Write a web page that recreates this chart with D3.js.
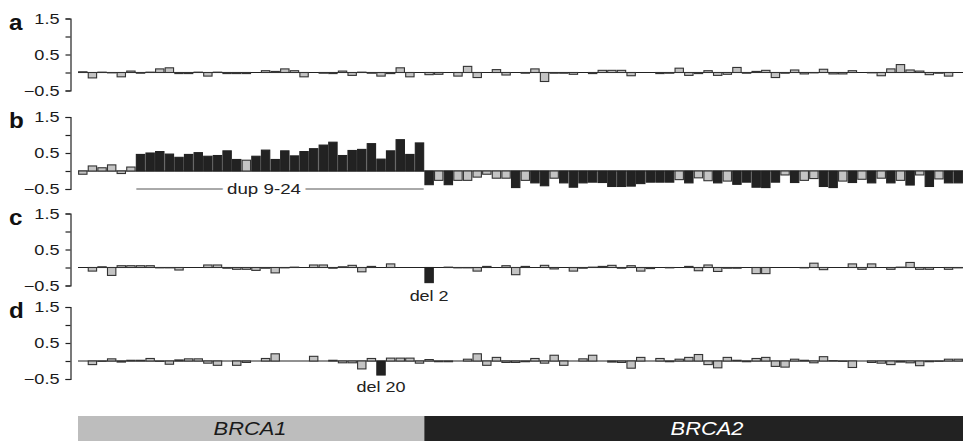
<!DOCTYPE html>
<html>
<head>
<meta charset="utf-8">
<script src="https://cdn.jsdelivr.net/npm/d3@7"></script>
<style>
  body { margin: 0; background: #fff; }
  svg { display: block; font-family: "Liberation Sans", Arial, Helvetica, sans-serif; }
</style>
</head>
<body>
<svg></svg>
<script>
// probe ratios (log2), 36 BRCA1 probes followed by 56 BRCA2 probes
const panelLetters = ["a", "b", "c", "d"];
const genes = ["BRCA1", "BRCA2"];
const geneProbeCounts = [36, 56];
const yTicks = [1.5, 1, 0.5, 0, -0.5];
const yTickLabels = ["1.5", "", "0.5", "", "\u22120.5"];

const ratiosA = [
  0.02, -0.15, 0.01, -0.01, -0.12, 0.04, -0.02, 0.01, 0.10, 0.13,
  -0.03, -0.03, 0.01, -0.10, 0.01, -0.03, -0.03, -0.03, 0.00, 0.05,
  0.03, 0.10, 0.05, -0.12, 0.00, -0.02, -0.03, 0.04, -0.08, 0.01,
  -0.02, -0.10, -0.03, 0.13, -0.12, 0.00, -0.06, -0.05, 0.00, -0.10,
  0.17, -0.14, 0.00, 0.08, -0.07, 0.00, -0.02, 0.10, -0.25, -0.02,
  -0.02, -0.05, 0.00, -0.03, 0.06, 0.06, 0.06, -0.09, 0.00, 0.00,
  -0.03, -0.02, 0.12, -0.08, -0.03, 0.05, -0.08, -0.05, 0.14, -0.02,
  0.03, 0.06, -0.14, -0.02, 0.07, -0.04, -0.01, 0.09, -0.04, -0.04,
  0.05, 0.00, -0.01, -0.09, 0.10, 0.22, 0.07, 0.04, -0.06, -0.02,
  -0.10, 0.00
];
const ratiosB = [
  -0.09, 0.14, 0.09, 0.17, -0.07, 0.11, 0.46, 0.50, 0.54, 0.47,
  0.38, 0.46, 0.51, 0.41, 0.43, 0.56, 0.32, 0.30, 0.41, 0.58,
  0.32, 0.56, 0.42, 0.54, 0.62, 0.72, 0.80, 0.43, 0.57, 0.60,
  0.76, 0.33, 0.56, 0.87, 0.46, 0.78, -0.38, -0.26, -0.38, -0.26,
  -0.26, -0.17, -0.09, -0.20, -0.20, -0.46, -0.26, -0.33, -0.41, -0.20,
  -0.33, -0.45, -0.33, -0.31, -0.32, -0.43, -0.43, -0.42, -0.35, -0.31,
  -0.31, -0.31, -0.24, -0.33, -0.19, -0.27, -0.33, -0.28, -0.37, -0.31,
  -0.45, -0.46, -0.31, -0.11, -0.32, -0.26, -0.21, -0.43, -0.46, -0.28,
  -0.32, -0.23, -0.33, -0.20, -0.33, -0.26, -0.39, -0.11, -0.43, -0.22,
  -0.33, -0.33
];
const ratiosC = [
  0.00, -0.10, 0.02, -0.22, 0.05, 0.05, 0.05, 0.05, -0.01, -0.01,
  -0.07, 0.00, 0.00, 0.07, 0.07, -0.02, -0.05, -0.05, -0.08, -0.02,
  -0.15, -0.01, 0.01, 0.00, 0.07, 0.07, -0.02, 0.02, 0.06, -0.12,
  0.03, 0.00, 0.10, 0.00, 0.00, 0.00, -0.42, 0.00, 0.01, -0.01,
  -0.01, -0.10, 0.03, 0.00, 0.05, -0.20, 0.03, 0.00, 0.06, -0.04,
  0.00, -0.10, -0.02, 0.01, 0.03, 0.06, -0.02, 0.05, -0.10, -0.03,
  0.00, -0.01, 0.00, 0.03, -0.09, 0.07, -0.11, -0.02, -0.02, 0.00,
  -0.17, -0.17, 0.00, 0.00, 0.00, -0.01, 0.12, -0.06, 0.00, 0.00,
  0.10, -0.05, 0.10, 0.00, -0.05, 0.01, 0.14, -0.05, -0.05, 0.00,
  -0.05, -0.01
];
const ratiosD = [
  0.00, -0.10, -0.01, 0.06, -0.03, 0.02, 0.02, 0.07, -0.01, -0.09,
  0.03, 0.06, 0.06, -0.06, -0.12, 0.00, -0.12, -0.04, 0.00, 0.07,
  0.20, 0.00, 0.00, 0.00, 0.13, 0.00, 0.02, -0.05, -0.05, -0.22,
  0.07, -0.39, 0.08, 0.08, 0.08, -0.06, 0.04, -0.02, -0.02, 0.00,
  0.05, 0.20, -0.12, 0.10, -0.04, -0.04, -0.02, 0.07, -0.06, 0.16,
  -0.12, 0.00, 0.06, 0.16, 0.00, -0.03, -0.04, -0.20, 0.10, 0.00,
  0.07, -0.02, 0.05, 0.10, 0.18, -0.10, -0.19, 0.10, 0.02, -0.02,
  0.07, 0.10, -0.15, -0.17, 0.05, 0.02, -0.05, 0.12, 0.01, -0.01,
  -0.18, 0.00, -0.04, -0.06, -0.10, -0.03, -0.05, -0.13, -0.02, -0.01,
  0.05, 0.05
];

// probes flagged as abnormal (drawn black)
const darkA = [];
const darkB = [
  6, 7, 8, 9, 10, 11, 12, 13, 14, 15, 16, 18, 19, 20, 21, 22, 23, 24, 25,
  26, 27, 28, 29, 30, 31, 32, 33, 34, 35,
  36, 38, 45, 47, 48, 50, 51, 52, 53, 54, 55, 56, 57, 58, 59, 60, 61, 63,
  66, 68, 69, 70, 71, 72, 74, 77, 78, 80, 82, 84, 86, 88, 90, 91
];
const darkC = [36];
const darkD = [31];

const panels = [
  { letter: "a", values: ratiosA, dark: darkA },
  { letter: "b", values: ratiosB, dark: darkB },
  { letter: "c", values: ratiosC, dark: darkC },
  { letter: "d", values: ratiosD, dark: darkD }
];

const width = 963, height = 441;
const svg = d3.select("svg").attr("width", width).attr("height", height);

// the source figure is stretched sideways, so text is too
function stretch(sel, sx) {
  sel.each(function () {
    const t = d3.select(this);
    const tx = +t.attr("x") || 0, ty = +t.attr("y") || 0;
    t.attr("x", 0).attr("y", 0)
      .attr("transform", `translate(${tx},${ty}) scale(${sx},1)`);
  });
}

const nProbes = d3.sum(geneProbeCounts);
const x = d3.scaleBand()
  .domain(d3.range(nProbes))
  .range([78, 963])
  .paddingInner(0.13)
  .paddingOuter(0.065);

const panelTops = [18.5, 117, 213.5, 307];
const panelH = 72;

panels.forEach((p, i) => {
  const g = svg.append("g").attr("transform", `translate(0,${panelTops[i]})`);
  const y = d3.scaleLinear().domain([-0.5, 1.5]).range([panelH, 0]);

  const axis = d3.axisLeft(y)
    .tickValues(yTicks)
    .tickSize(5)
    .tickPadding(6)
    .tickFormat((d, j) => yTickLabels[j]);
  const ax = g.append("g").attr("transform", "translate(70.5,0)").call(axis);
  ax.select(".domain").attr("stroke", "#222").attr("stroke-width", 1.2);
  ax.selectAll(".tick line").attr("stroke", "#222").attr("stroke-width", 1.2);
  const tt = ax.selectAll(".tick text")
    .attr("fill", "#1a1a1a")
    .style("font-size", "14.5px")
    .style("font-family", "'Liberation Sans', Arial, sans-serif");
  stretch(tt, 1.25);

  const lt = g.append("text")
    .attr("x", 9)
    .attr("y", 11)
    .attr("font-size", 22)
    .attr("font-weight", "bold")
    .attr("fill", "#111")
    .text(p.letter);
  stretch(lt, 1.1);

  g.append("line")
    .attr("x1", 78).attr("x2", 963)
    .attr("y1", y(0)).attr("y2", y(0))
    .attr("stroke", "#222").attr("stroke-width", 1);

  const darkSet = new Set(p.dark);
  g.selectAll("rect.bar")
    .data(p.values)
    .enter()
    .append("rect")
    .attr("class", "bar")
    .attr("x", (d, k) => x(k))
    .attr("width", x.bandwidth())
    .attr("y", d => Math.min(y(d), y(0)))
    .attr("height", d => Math.abs(y(d) - y(0)))
    .attr("fill", (d, k) => darkSet.has(k) ? "#222" : "#c4c4c4")
    .attr("stroke", (d, k) => darkSet.has(k) ? "#222" : "#333")
    .attr("stroke-width", 1.1);

  if (p.letter === "b") {
    const x0 = x(6), x1 = x(35) + x.bandwidth();
    g.append("line")
      .attr("x1", x0).attr("x2", x1)
      .attr("y1", y(-0.5)).attr("y2", y(-0.5))
      .attr("stroke", "#555").attr("stroke-width", 1);
    const t = g.append("text")
      .attr("x", 264).attr("y", y(-0.5) + 5)
      .attr("text-anchor", "middle")
      .attr("font-size", 15)
      .attr("fill", "#222")
      .attr("stroke", "#fff").attr("stroke-width", 8)
      .attr("paint-order", "stroke")
      .text("dup 9-24");
    stretch(t, 1.25);
  }
  if (p.letter === "c") {
    const t = g.append("text")
      .attr("x", x(36) + x.bandwidth() / 2).attr("y", y(-0.5) + 15)
      .attr("text-anchor", "middle")
      .attr("font-size", 15)
      .attr("fill", "#222")
      .text("del 2");
    stretch(t, 1.2);
  }
  if (p.letter === "d") {
    const t = g.append("text")
      .attr("x", x(31) + x.bandwidth() / 2).attr("y", y(-0.5) + 13)
      .attr("text-anchor", "middle")
      .attr("font-size", 15)
      .attr("fill", "#222")
      .text("del 20");
    stretch(t, 1.2);
  }
});

// gene track
const step = x.step();
const split = x(geneProbeCounts[0]) - (step - x.bandwidth()) / 2;
const geneBounds = [[78, split], [split, 963]];
const geneFill = ["#bdbdbd", "#222"];
const geneText = ["#1a1a1a", "#fff"];
const geneLabelX = [250, 707];

genes.forEach((gname, i) => {
  svg.append("rect")
    .attr("x", geneBounds[i][0])
    .attr("y", 416)
    .attr("width", geneBounds[i][1] - geneBounds[i][0])
    .attr("height", 25)
    .attr("fill", geneFill[i]);
  const t = svg.append("text")
    .attr("x", geneLabelX[i])
    .attr("y", 435)
    .attr("text-anchor", "middle")
    .attr("font-size", 19)
    .attr("font-style", "italic")
    .attr("fill", geneText[i])
    .text(gname);
  stretch(t, 1.15);
});
</script>
</body>
</html>
